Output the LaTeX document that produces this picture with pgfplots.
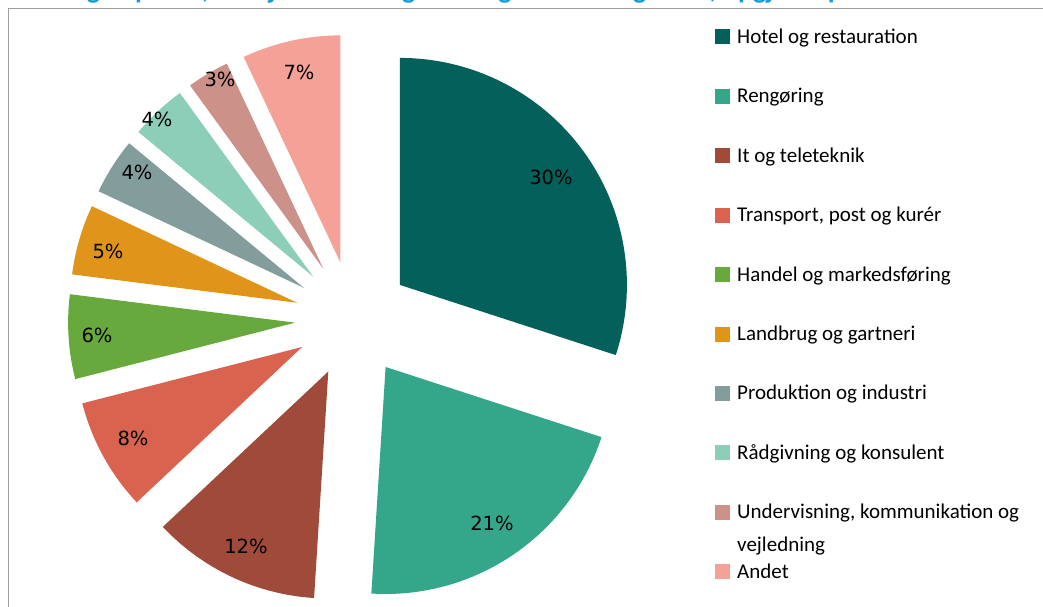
\documentclass[border=0pt]{standalone}
\usepackage{pgfplots}
\pgfplotsset{compat=1.18}
\usepackage{pgfplotstable}
\usepackage{fontspec}
\setmainfont{Carlito}
\newfontfamily\pctfont{DejaVu Sans}
\def\pctstyle{\pctfont\fontsize{19.5}{23}\selectfont}
\def\lgstyle{\fontsize{21}{25}\selectfont}
\def\titlestyle{\bfseries\fontsize{28}{32}\selectfont}

\definecolor{hotel}{HTML}{03605B}
\definecolor{reng}{HTML}{34A78B}
\definecolor{itc}{HTML}{A04A3A}
\definecolor{trans}{HTML}{D9634F}
\definecolor{handel}{HTML}{68A93E}
\definecolor{land}{HTML}{E0951A}
\definecolor{prod}{HTML}{829D9B}
\definecolor{raad}{HTML}{8DCEB8}
\definecolor{underv}{HTML}{CC928A}
\definecolor{andet}{HTML}{F4A298}
\definecolor{titleblue}{HTML}{1A9CD3}

\begin{document}

% share in percent, slice colour, label position (px from top left)
\pgfplotstableread[col sep=semicolon]{
label;value;color;lx;ly
Hotel og restauration;30;hotel;551;177
Rengøring;21;reng;492;523
It og teleteknik;12;itc;246;546
Transport, post og kurér;8;trans;133;438
Handel og markedsføring;6;handel;97;335
Landbrug og gartneri;5;land;108;251
Produktion og industri;4;prod;137;172
Rådgivning og konsulent;4;raad;157;119
Undervisning, kommunikation og;3;underv;220;79
Andet;7;andet;299;72
}\piedata

\begin{tikzpicture}
\begin{axis}[
    x=1pt, y=1pt, y dir=reverse,
    xmin=0, xmax=1043, ymin=0, ymax=607,
    hide axis, clip=true,
]
\coordinate (bl) at (axis cs:0,607);
\coordinate (tr) at (axis cs:1043,0);
\path (axis cs:0,0) rectangle (axis cs:1043,607);

% cut-off title and chart frame
\node[anchor=base east, font=\titlestyle, text=titleblue, inner sep=0pt]
    at (axis cs:918,-1.5) {Vejledninger om lovlige ophold, arbejde mm. Registreringer i 2014 og 2015, opgjort i procent};
\draw[gray!75, line width=1.5pt] (axis cs:8.5,607) -- (axis cs:8.5,8.5) -- (axis cs:1043,8.5);

% exploded pie, clockwise from 12 o'clock
\def\cum{0}
\pgfplotstablegetrowsof{\piedata}
\pgfmathtruncatemacro\nrows{\pgfplotsretval-1}
\pgfplotsforeachungrouped \i in {0,...,\nrows}{%
  \pgfplotstablegetelem{\i}{value}\of\piedata \let\slval\pgfplotsretval
  \pgfplotstablegetelem{\i}{color}\of\piedata \let\slcol\pgfplotsretval
  \pgfplotstablegetelem{\i}{lx}\of\piedata \let\lx\pgfplotsretval
  \pgfplotstablegetelem{\i}{ly}\of\piedata \let\ly\pgfplotsretval
  \pgfplotstablegetelem{\i}{label}\of\piedata \let\slab\pgfplotsretval
  \pgfmathsetmacro\aa{90-3.6*\cum}
  \pgfmathsetmacro\bb{90-3.6*(\cum+\slval)}
  \pgfmathsetmacro\mm{(\aa+\bb)/2}
  \pgfmathsetmacro\cum{\cum+\slval}
  \pgfmathsetmacro\legy{37+59.4*\i}
  \edef\temp{%
    \noexpand\fill[fill=\slcol] (axis cs:353,319) ++(\mm:58pt) -- ++(\aa:227pt)
      arc[start angle=\aa, end angle=\bb, radius=227pt] -- cycle;
    \noexpand\node[font=\noexpand\pctstyle] at (axis cs:\lx,\ly) {\slval\noexpand\%};
    \noexpand\fill[fill=\slcol] (axis cs:715,\legy-7.5) rectangle (axis cs:730,\legy+7.5);
    \noexpand\node[anchor=base west, inner sep=0pt, font=\noexpand\lgstyle]
      at (axis cs:737,\legy+6.5) {\unexpanded\expandafter{\slab}};
  }%
  \temp
}
\node[anchor=base west, inner sep=0pt, font=\lgstyle] at (axis cs:737,551.5) {vejledning};
\end{axis}
\pgfresetboundingbox
\useasboundingbox (bl) rectangle (tr);
\end{tikzpicture}
\end{document}
